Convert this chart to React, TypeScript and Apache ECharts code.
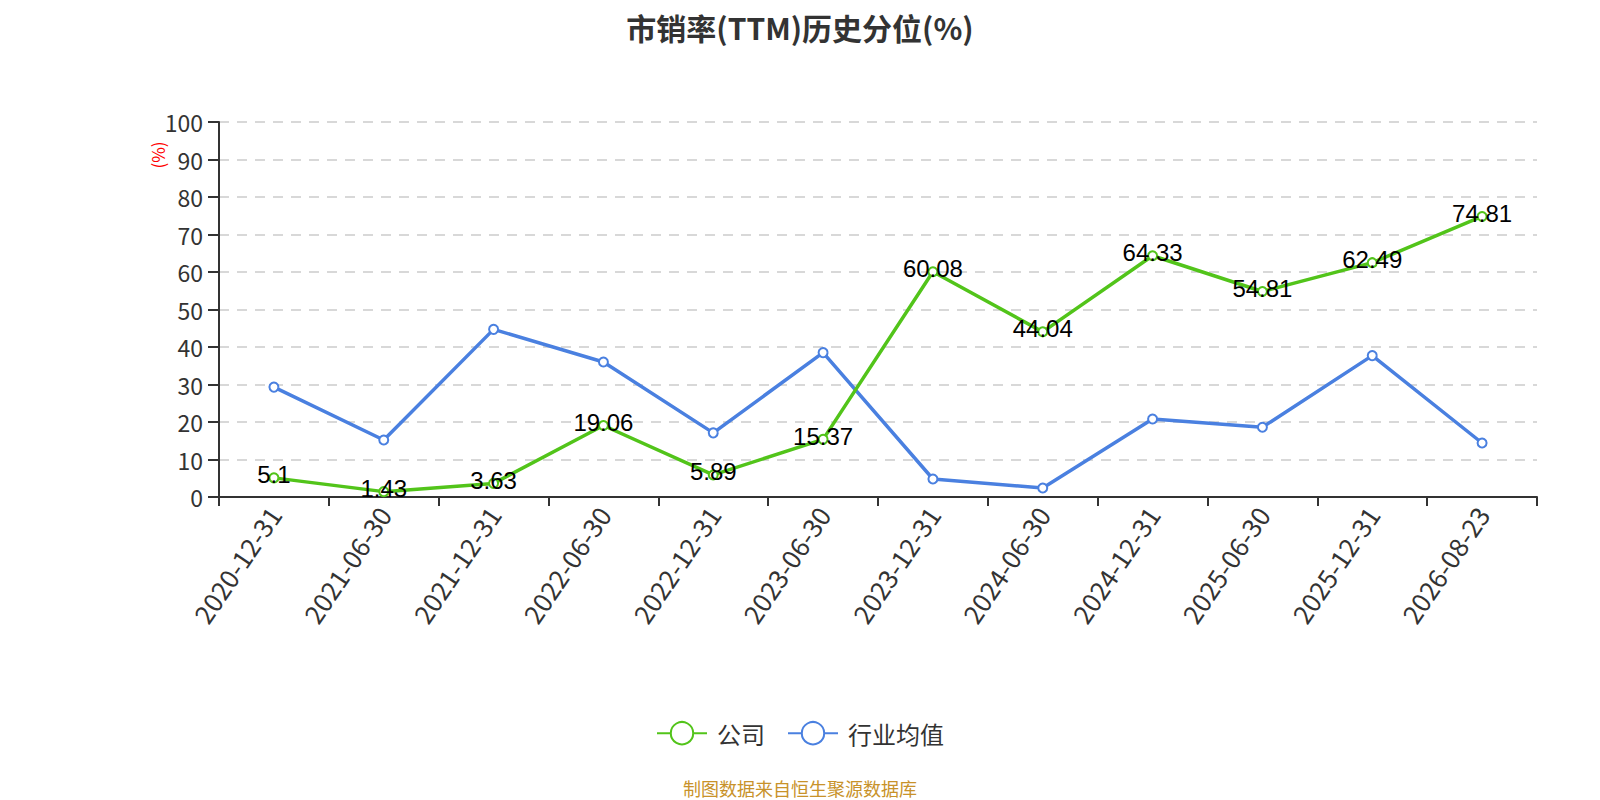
import React, { useEffect, useRef } from "react";
import * as echarts from "echarts";

const categories = [
  "2020-12-31", "2021-06-30", "2021-12-31", "2022-06-30", "2022-12-31", "2023-06-30",
  "2023-12-31", "2024-06-30", "2024-12-31", "2025-06-30", "2025-12-31", "2026-08-23",
];
const companyValues = [5.1, 1.43, 3.63, 19.06, 5.89, 15.37, 60.08, 44.04, 64.33, 54.81, 62.49, 74.81];
const industryValues = [29.3, 15.2, 44.7, 36.0, 17.1, 38.5, 4.8, 2.4, 20.8, 18.6, 37.7, 14.4];
const yTicks = { min: 0, max: 100, interval: 10 };

const FONT = "'Noto Sans CJK SC', 'Noto Sans', sans-serif";

export default function App() {
  const ref = useRef<HTMLDivElement>(null);
  useEffect(() => {
    if (!ref.current) return;
    const chart = echarts.init(ref.current, undefined, { renderer: "svg" });
    chart.setOption({
      animation: false,
      backgroundColor: "#ffffff",
      textStyle: { fontFamily: FONT },
      title: {
        text: "市销率(TTM)历史分位(%)",
        left: "center",
        top: 7,
        textStyle: { fontSize: 30, fontWeight: "bold", color: "#333", fontFamily: FONT },
      },
      grid: { left: 219, right: 63, top: 122, bottom: 303 },
      legend: {
        top: 716,
        left: "center",
        itemWidth: 50,
        itemHeight: 28,
        itemGap: 22,
        textStyle: { fontSize: 24, color: "#333", fontFamily: FONT, padding: [0, 0, 0, 5] },
        data: ["公司", "行业均值"],
      },
      graphic: [
        {
          type: "text",
          x: 800,
          y: 788,
          style: {
            text: "制图数据来自恒生聚源数据库",
            fill: "#c8922a",
            fontSize: 18,
            fontFamily: FONT,
            align: "center",
            verticalAlign: "middle",
          },
        },
        {
          type: "text",
          x: 157,
          y: 155,
          rotation: Math.PI / 2,
          style: {
            text: "(%)",
            fill: "#ff0000",
            fontSize: 17,
            fontFamily: FONT,
            align: "center",
            verticalAlign: "middle",
          },
        },
      ],
      xAxis: {
        type: "category",
        data: categories,
        boundaryGap: true,
        axisLine: { lineStyle: { color: "#333", width: 2 } },
        axisTick: { show: true, alignWithLabel: false, length: 9, lineStyle: { color: "#333", width: 2 } },
        axisLabel: { rotate: 56, fontSize: 26, color: "#333", margin: 12, interval: 0, fontFamily: FONT },
      },
      yAxis: {
        type: "value",
        min: yTicks.min,
        max: yTicks.max,
        interval: yTicks.interval,
        axisLine: { show: true, lineStyle: { color: "#333", width: 2 } },
        axisTick: { show: true, length: 11, lineStyle: { color: "#333", width: 2 } },
        axisLabel: { fontSize: 23, color: "#333", margin: 16, fontFamily: FONT },
        splitLine: { lineStyle: { type: [10, 8], color: "#ccc", width: 1.5 } },
      },
      series: [
        {
          name: "公司",
          type: "line",
          data: companyValues,
          symbol: "emptyCircle",
          symbolSize: 9,
          itemStyle: { color: "#52c41a", borderWidth: 2 },
          lineStyle: { width: 3.5, color: "#52c41a" },
          label: {
            show: true,
            position: "inside",
            offset: [0, -3],
            fontSize: 24,
            color: "#000",
            fontFamily: "'Liberation Sans', Arial, sans-serif",
          },
          z: 3,
        },
        {
          name: "行业均值",
          type: "line",
          data: industryValues,
          symbol: "emptyCircle",
          symbolSize: 9,
          itemStyle: { color: "#4a80e0", borderWidth: 2 },
          lineStyle: { width: 3.5, color: "#4a80e0" },
          z: 2,
        },
      ],
    });
    return () => chart.dispose();
  }, []);
  return (
    <div
      ref={ref}
      style={{ position: "absolute", left: 0, top: 0, width: 1600, height: 800 }}
    />
  );
}
